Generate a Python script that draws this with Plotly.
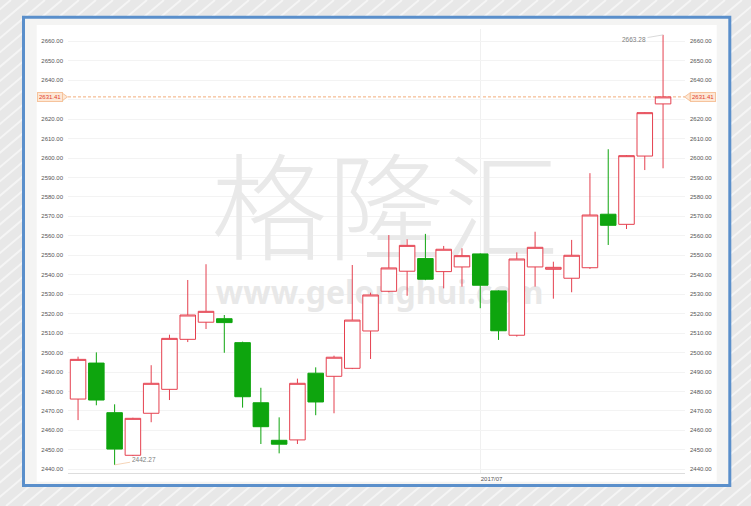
import plotly.graph_objects as go

# daily candles, June to mid July 2017
open_ = [2476.1, 2494.6, 2469.1, 2447.2, 2468.8, 2481.1, 2506.8, 2515.6, 2517.4, 2505.1,
         2474.2, 2454.9, 2455.1, 2489.4, 2487.8, 2491.9, 2511.1, 2531.5, 2541.8, 2548.3,
         2541.6, 2544.0, 2550.7, 2531.7, 2508.9, 2544.0, 2542.8, 2538.2, 2543.6, 2571.1,
         2565.9, 2601.0, 2627.8]
high = [2497.9, 2500.1, 2473.4, 2466.5, 2493.5, 2509.2, 2537.3, 2545.4, 2519.3, 2505.6,
        2481.9, 2466.7, 2486.6, 2492.4, 2498.4, 2545.0, 2530.8, 2560.4, 2558.2, 2561.0,
        2554.8, 2553.6, 2551.0, 2532.0, 2551.5, 2562.1, 2546.7, 2557.9, 2592.2, 2604.5,
        2601.5, 2623.5, 2663.28]
low = [2465.3, 2472.9, 2442.27, 2446.8, 2464.2, 2475.6, 2505.4, 2512.1, 2499.9, 2471.7,
       2453.0, 2448.2, 2453.0, 2467.8, 2468.8, 2491.5, 2496.7, 2531.0, 2529.2, 2537.2,
       2533.0, 2533.9, 2522.8, 2506.5, 2508.2, 2533.9, 2527.7, 2531.0, 2543.0, 2555.3,
       2563.5, 2593.8, 2594.7]
close = [2496.5, 2475.6, 2450.4, 2466.2, 2484.2, 2507.3, 2519.3, 2521.2, 2515.4, 2477.3,
         2461.9, 2452.9, 2484.2, 2474.6, 2497.6, 2516.7, 2529.6, 2543.5, 2555.1, 2537.7,
         2553.1, 2549.8, 2534.6, 2511.2, 2548.1, 2554.1, 2543.8, 2550.0, 2570.7, 2565.4,
         2601.2, 2623.3, 2631.41]

x_tickvals = [22]
x_ticktext = ["2017/07"]
y_tickvals = list(range(2440, 2661, 10))

RED = "#e5404f"
GREEN = "#0ea50e"
FONT = "Liberation Sans, Arial, sans-serif"
TAG_FILL, TAG_LINE = "#fde8d6", "#f6c39c"

W, H = 751, 506
ML, MR, MT, MB = 68, 66, 29, 33
PW, PH = W - ML - MR, H - MT - MB
Y_RANGE = [2438.1, 2666.3]
Y_PER_PX = (Y_RANGE[1] - Y_RANGE[0]) / PH


def px_x(px):
    return (px - ML) / PW


def px_y(py):
    return (H - MB - py) / PH


idx = list(range(len(close)))
i_hi = high.index(max(high))
i_lo = low.index(min(low))
last = close[-1]

fig = go.Figure()

# watermark sits under the candles
fig.add_trace(go.Scatter(
    x=[16.8], y=[2567.0], mode="text", text=["格隆汇"], hoverinfo="skip", showlegend=False,
    textfont=dict(size=116, color="#e9e9e9", family="Noto Sans CJK SC", weight=300),
))
fig.add_trace(go.Scatter(
    x=[16.5], y=[2529.0], mode="text", text=["www.gelonghui.com"], hoverinfo="skip", showlegend=False,
    textfont=dict(size=32, color="#e8e8e8", family="Noto Sans, sans-serif", weight="bold"),
))

fig.add_trace(go.Candlestick(
    x=idx, open=open_, high=high, low=low, close=close, yaxis="y2",
    increasing=dict(line=dict(color=RED, width=1), fillcolor="#ffffff"),
    decreasing=dict(line=dict(color=GREEN, width=1), fillcolor=GREEN),
    whiskerwidth=0, showlegend=False, hoverinfo="skip",
))

# background: stripes, blue frame, pale rim, white card
shapes = []
x0 = -640
while x0 < W:
    shapes.append(dict(type="line", xref="paper", yref="paper", layer="below",
                       x0=px_x(x0), y0=px_y(H), x1=px_x(x0 + 600), y1=px_y(0),
                       line=dict(color="rgba(255,255,255,0.55)", width=2)))
    x0 += 17
shapes.append(dict(type="rect", xref="paper", yref="paper", layer="below",
                   x0=px_x(23.5), x1=px_x(729.8), y0=px_y(485.5), y1=px_y(17.3),
                   fillcolor="#f4f4f3", line=dict(color="#5a8fcb", width=3)))
shapes.append(dict(type="rect", xref="paper", yref="paper", layer="below",
                   x0=px_x(36.7), x1=px_x(716.7), y0=px_y(481.7), y1=px_y(25),
                   fillcolor="#ffffff", line=dict(width=0)))
shapes.append(dict(type="line", xref="paper", yref="y", layer="below",
                   x0=0, x1=1, y0=last, y1=last,
                   line=dict(color="#f2ad7c", width=1, dash="3px,2px")))

# pointed tips of the last-price tags
half = 4 * Y_PER_PX
for base, tip in ((62, 67.5), (690, 684.5)):
    shapes.append(dict(
        type="path", xref="paper", yref="y",
        path=(f"M {px_x(base)},{last + half} L {px_x(tip)},{last} "
              f"L {px_x(base)},{last - half} Z"),
        fillcolor=TAG_FILL, line=dict(color=TAG_LINE, width=1),
    ))

annotations = []
for xpos, anchor in ((px_x(62.5), "right"), (px_x(689.5), "left")):
    annotations.append(dict(
        x=xpos, xref="paper", y=last, yref="y", text=f"{last:.2f}", showarrow=False,
        xanchor=anchor, font=dict(size=6, color="#e2402e", family=FONT),
        bgcolor=TAG_FILL, bordercolor=TAG_LINE, borderwidth=1, borderpad=1,
    ))
annotations.append(dict(
    x=i_hi, y=high[i_hi], xref="x", yref="y", text=f"{high[i_hi]:.2f}",
    showarrow=True, arrowhead=0, arrowwidth=0.8, arrowcolor="#cfcfcf", ax=-29, ay=5,
    font=dict(size=6.5, color="#808080", family=FONT), standoff=0,
))
annotations.append(dict(
    x=i_lo, y=low[i_lo], xref="x", yref="y", text=f"{low[i_lo]:.2f}",
    showarrow=True, arrowhead=0, arrowwidth=0.8, arrowcolor="#f3c9a5", ax=29, ay=-5,
    font=dict(size=6.5, color="#808080", family=FONT), standoff=0,
))

tickfont = dict(size=6, color="#555555", family=FONT)
fig.update_layout(
    width=W, height=H,
    margin=dict(l=ML, r=MR, t=MT, b=MB),
    paper_bgcolor="#e8e8e8",
    plot_bgcolor="rgba(0,0,0,0)",
    boxgap=0.15, boxgroupgap=0,
    showlegend=False,
    shapes=shapes,
    annotations=annotations,
    xaxis=dict(
        range=[-0.55, 33.2], rangeslider=dict(visible=False),
        tickvals=x_tickvals, ticktext=x_ticktext, ticklabelposition="outside right",
        tickfont=tickfont, showgrid=True, gridcolor="#f0f0f0", gridwidth=1,
        showline=True, linecolor="#dddddd", linewidth=1, zeroline=False, ticks="",
    ),
    yaxis=dict(
        range=Y_RANGE, tickvals=y_tickvals, tickformat=".2f", tickfont=tickfont,
        showgrid=True, gridcolor="#f3f3f3", gridwidth=1, zeroline=False, ticks="",
        ticklabelstandoff=4,
    ),
    yaxis2=dict(
        range=Y_RANGE, tickvals=y_tickvals, tickformat=".2f", tickfont=tickfont,
        overlaying="y", side="right", showgrid=False, zeroline=False, ticks="",
        ticklabelstandoff=4,
    ),
)

# the page's default body margin would shift the figure by 8px
fig.write_html("out.html", config={"displayModeBar": False},
               post_script="document.body.style.margin='0';")
